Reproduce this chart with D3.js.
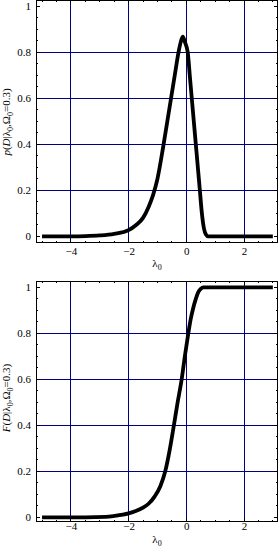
<!DOCTYPE html>
<html>
<head>
<meta charset="utf-8">
<script src="https://cdn.jsdelivr.net/npm/d3@7"></script>
<style>
  body { margin: 0; background: white; }
  text { font-family: "Liberation Serif", "DejaVu Serif", serif; }
</style>
</head>
<body>
<div id="chart"></div>
<script>
// values
const pdfLambda = [-5, -4, -3.5, -3, -2.5, -2, -1.75, -1.5, -1.3, -1.15, -1.0, -0.8, -0.6, -0.4, -0.27, -0.18, -0.12, -0.05, 0.05, 0.12, 0.19, 0.26, 0.33, 0.4, 0.47, 0.54, 0.61, 0.68, 0.76, 1, 3]
const pdfValue  = [0, 0, 0.001, 0.004, 0.011, 0.027, 0.048, 0.08, 0.13, 0.18, 0.25, 0.39, 0.545, 0.7, 0.8, 0.85, 0.868, 0.845, 0.8, 0.7, 0.6, 0.5, 0.4, 0.3, 0.2, 0.1, 0.035, 0.008, 0, 0, 0]

const cdfLambda = [-5, -3.5, -2.8, -2.5, -2, -1.75, -1.5, -1.3, -1.1, -0.9, -0.73, -0.58, -0.43, -0.3, -0.16, -0.05, 0.07, 0.15, 0.24, 0.33, 0.42, 0.5, 0.59, 0.7, 3]
const cdfValue  = [0, 0, 0.002, 0.006, 0.017, 0.027, 0.042, 0.06, 0.09, 0.135, 0.2, 0.29, 0.4, 0.5, 0.6, 0.7, 0.8, 0.86, 0.91, 0.95, 0.98, 0.993, 1.0, 1.0, 1.0]

const xTicks = [-4, -2, 0, 2]
const xTickLabels = ["\u22124", "\u22122", "0", "2"]
const yTicks = [0, 0.2, 0.4, 0.6, 0.8, 1]
const yTickLabels = ["0", "0.2", "0.4", "0.6", "0.8", "1"]

const W = 279, H = 549
const gridColor = "#000080"
const serif = "Liberation Serif, DejaVu Serif, serif"

const svg = d3.select("#chart").append("svg")
  .attr("width", W).attr("height", H)

svg.append("rect").attr("width", W).attr("height", H).attr("fill", "white")

function panel(opts) {
  const { top, bottom, ys, yLetter, yMid } = opts
  const left = 36, right = 278

  const x = d3.scaleLinear().domain([0, 2]).range([186.3, 244]) // 2 units = 57.7px
  const y = d3.scaleLinear().domain([0, 1]).range([ys, ys - 230])

  const g = svg.append("g")

  // grid
  g.selectAll(".gx").data(xTicks).join("line")
    .attr("x1", d => x(d)).attr("x2", d => x(d))
    .attr("y1", top).attr("y2", bottom)
    .attr("stroke", gridColor).attr("stroke-width", 1)
    .attr("shape-rendering", "crispEdges")
  g.selectAll(".gy").data(yTicks.filter(d => d > 0 && d < 1)).join("line")
    .attr("x1", left).attr("x2", right)
    .attr("y1", d => y(d)).attr("y2", d => y(d))
    .attr("stroke", gridColor).attr("stroke-width", 1)
    .attr("shape-rendering", "crispEdges")

  // frame ticks, pointing inwards on all four sides
  const xMinor = d3.range(-5, 3.01, 0.5).filter(d => !xTicks.includes(d))
  const yMinor = d3.range(0, 1.001, 0.05).filter(d => !yTicks.some(t => Math.abs(t - d) < 1e-6))
  const tickG = g.append("g").attr("stroke", "black").attr("stroke-width", 1)
    .attr("shape-rendering", "crispEdges")
  const xt = [...xTicks.map(v => ({ v, l: 4 })), ...xMinor.map(v => ({ v, l: 2 }))]
  const yt = [...yTicks.map(v => ({ v, l: 4 })), ...yMinor.map(v => ({ v, l: 2 }))]
  xt.forEach(t => {
    tickG.append("line").attr("x1", x(t.v)).attr("x2", x(t.v)).attr("y1", bottom).attr("y2", bottom - t.l)
    tickG.append("line").attr("x1", x(t.v)).attr("x2", x(t.v)).attr("y1", top).attr("y2", top + t.l)
  })
  yt.forEach(t => {
    tickG.append("line").attr("x1", left).attr("x2", left + t.l).attr("y1", y(t.v)).attr("y2", y(t.v))
    tickG.append("line").attr("x1", right).attr("x2", right - t.l).attr("y1", y(t.v)).attr("y2", y(t.v))
  })

  // frame
  g.append("rect")
    .attr("x", left + 0.5).attr("y", top + 0.5)
    .attr("width", right - left - 1).attr("height", bottom - top - 1)
    .attr("fill", "none").attr("stroke", "black").attr("stroke-width", 1)

  // tick labels through axes
  const ax = g.append("g")
    .attr("transform", `translate(0, ${bottom})`)
    .call(d3.axisBottom(x).tickValues(xTicks).tickSize(0).tickPadding(opts.xPad)
      .tickFormat((d, i) => xTickLabels[i]))
  ax.attr("font-family", serif).attr("font-size", 11)
  ax.select(".domain").remove()

  const ay = g.append("g")
    .attr("transform", `translate(${left}, 0)`)
    .call(d3.axisLeft(y).tickValues(yTicks).tickSize(0).tickPadding(5)
      .tickFormat((d, i) => yTickLabels[i]))
  ay.attr("font-family", serif).attr("font-size", 11)
  ay.select(".domain").remove()

  // x title
  const xt2 = g.append("text")
    .attr("x", (left + right) / 2).attr("y", opts.xTitleY)
    .attr("text-anchor", "middle").attr("font-family", serif).style("font-size", "11px")
  xt2.append("tspan").text("\u03bb")
  xt2.append("tspan").attr("dy", 2.5).style("font-size", "8px").text("0")

  // y title
  const yt2 = g.append("text")
    .attr("transform", `translate(10, ${yMid}) rotate(-90)`)
    .attr("text-anchor", "middle").attr("font-family", serif).style("font-size", "11px")
  yt2.append("tspan").style("font-style", "italic").text(yLetter)
  yt2.append("tspan").text("(")
  yt2.append("tspan").style("font-style", "italic").text("D")
  yt2.append("tspan").text("|\u03bb")
  yt2.append("tspan").attr("dy", 2.5).style("font-size", "8px").text("0")
  yt2.append("tspan").attr("dy", -2.5).text(",\u03a9")
  yt2.append("tspan").attr("dy", 2.5).style("font-size", "8px").text("0")
  yt2.append("tspan").attr("dy", -2.5).text("=0.3)")

  // curve
  const pts = opts.lx.map((d, i) => [d, opts.ly[i]])
  g.append("path")
    .datum(pts)
    .attr("fill", "none")
    .attr("stroke", "black")
    .attr("stroke-width", 3.8)
    .attr("stroke-linejoin", "round")
    .attr("d", d3.line().x(d => x(d[0])).y(d => y(d[1])).curve(d3.curveMonotoneX))
}

panel({ top: 0, bottom: 243, ys: 236.3, lx: pdfLambda, ly: pdfValue, yLetter: "p", yMid: 122, xPad: 4, xTitleY: 267 })
panel({ top: 281, bottom: 522, ys: 517.3, lx: cdfLambda, ly: cdfValue, yLetter: "F", yMid: 398, xPad: 0, xTitleY: 543 })
</script>
</body>
</html>
